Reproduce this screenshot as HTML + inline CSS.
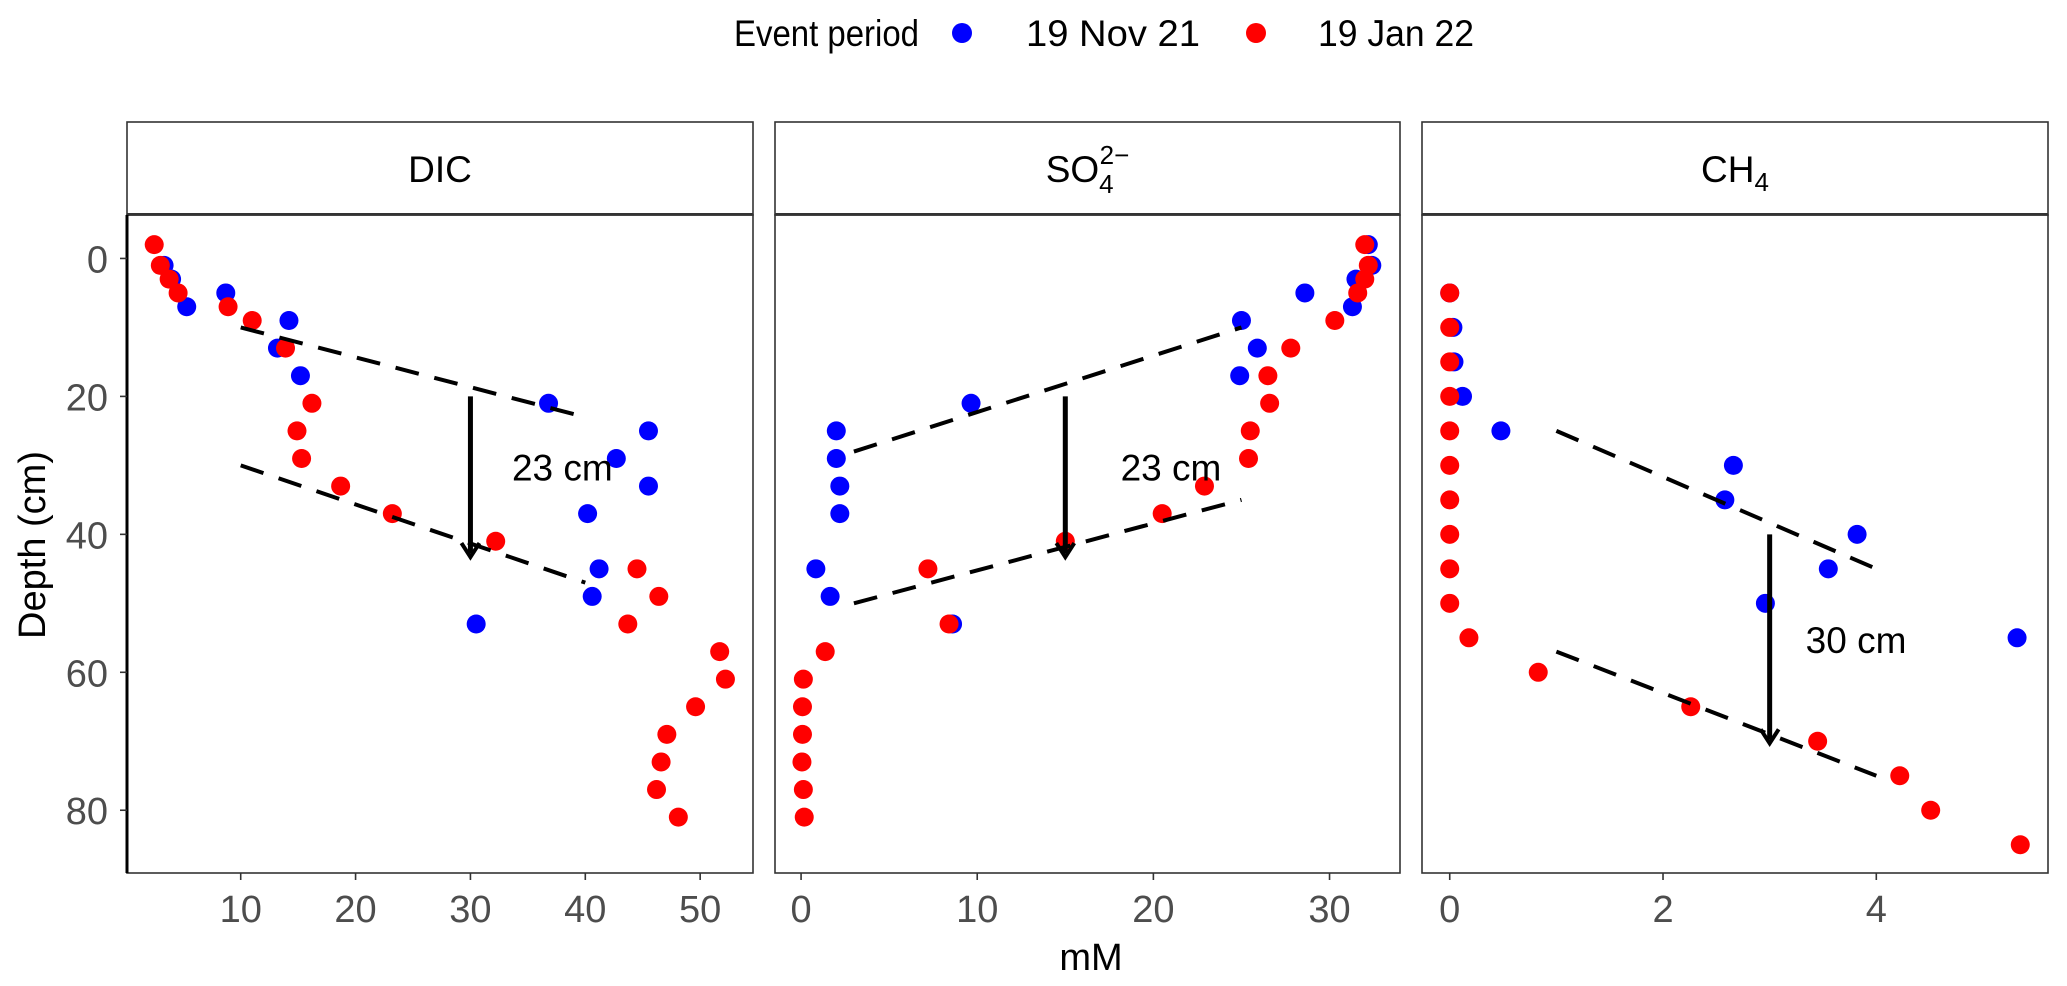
<!DOCTYPE html>
<html><head><meta charset="utf-8"><style>
body{margin:0;background:#fff}
svg{display:block;font-family:"Liberation Sans",sans-serif}
</style></head><body>
<svg id="c" width="2067" height="986" xmlns="http://www.w3.org/2000/svg">
<g id="legend">
<text x="734" y="46" font-size="37" textLength="185" lengthAdjust="spacingAndGlyphs" fill="#000">Event period</text>
<circle cx="962" cy="33" r="10" fill="#0000ff"/>
<text x="1026" y="46" font-size="37" textLength="174" lengthAdjust="spacingAndGlyphs">19 Nov 21</text>
<circle cx="1256" cy="33" r="10" fill="#ff0000"/>
<text x="1318" y="46" font-size="37" textLength="156" lengthAdjust="spacingAndGlyphs">19 Jan 22</text>
</g>
<text x="1091" y="970" font-size="38" text-anchor="middle">mM</text>
<text transform="translate(45,545) rotate(-90)" font-size="38" text-anchor="middle">Depth (cm)</text>
</svg>
<script>
// shared depth axis
const yTicks=[0,20,40,60,80];
// DIC
const dicNovX=[3.33,3.98,8.7,5.3,14.2,13.2,15.2,36.8,45.5,42.7,45.5,40.2,41.2,40.6,30.5];
const dicNovD=[1,3,5,7,9,13,17,21,25,29,33,37,45,49,53];
const dicJanX=[2.47,3.0,3.77,4.55,8.9,11.0,13.9,16.2,14.9,15.3,18.7,23.2,32.2,44.5,46.4,43.7,51.7,52.2,49.6,47.1,46.6,46.2,48.1];
const dicJanD=[-2,1,3,5,7,9,13,21,25,29,33,37,41,45,49,53,57,61,65,69,73,77,81];
const dicTicks=[10,20,30,40,50];
// SO4
const so4NovX=[32.2,32.4,31.5,28.6,31.3,25.0,25.9,24.9,9.65,2.0,2.0,2.2,2.2,0.84,1.65,8.6];
const so4NovD=[-2,1,3,5,7,9,13,17,21,25,29,33,37,45,49,53];
const so4JanX=[32.0,32.2,32.0,31.6,30.3,27.8,26.5,26.6,25.5,25.4,22.9,20.5,15.0,7.2,8.4,1.37,0.13,0.08,0.08,0.05,0.13,0.18];
const so4JanD=[-2,1,3,5,9,13,17,21,25,29,33,37,41,45,53,57,61,65,69,73,77,81];
const so4Ticks=[0,10,20,30];
// CH4
const ch4NovX=[0,0.03,0.04,0.12,0.48,2.66,2.58,3.82,3.55,2.96,5.32];
const ch4NovD=[5,10,15,20,25,30,35,40,45,50,55];
const ch4JanX=[0,0,0,0,0,0,0,0,0,0,0.18,0.83,2.26,3.45,4.22,4.51,5.35];
const ch4JanD=[5,10,15,20,25,30,35,40,45,50,55,60,65,70,75,80,85];
const ch4Ticks=[0,2,4];

const NS="http://www.w3.org/2000/svg";
const svg=document.getElementById('c');
const pTop=215,pBot=873,dMin=-6.3,dMax=89.1;
function yS(d){return pTop+(d-dMin)/(dMax-dMin)*(pBot-pTop);}
function mk(tag,attrs,parent){const e=document.createElementNS(NS,tag);for(const k in attrs)e.setAttribute(k,attrs[k]);(parent||svg).appendChild(e);return e;}

const panels=[
 {name:'dic',title:'DIC',l:127,r:753,xmin:0.1,xmax:54.6,ticks:dicTicks,nx:dicNovX,nd:dicNovD,jx:dicJanX,jd:dicJanD,
  lines:[[10,10,40,23],[10,30,40,47]],arrow:[30,20,43.3],label:[38,30.3,'23 cm']},
 {name:'so4',title:'SO4',l:775,r:1400,xmin:-1.48,xmax:34.0,ticks:so4Ticks,nx:so4NovX,nd:so4NovD,jx:so4JanX,jd:so4JanD,
  lines:[[3,28,25,10],[3,50,25,35]],arrow:[15,20,43.3],label:[21,30.3,'23 cm']},
 {name:'ch4',title:'CH4',l:1422,r:2048,xmin:-0.26,xmax:5.61,ticks:ch4Ticks,nx:ch4NovX,nd:ch4NovD,jx:ch4JanX,jd:ch4JanD,
  lines:[[1,25,4,45],[1,57,4,75]],arrow:[3,40,70.3],label:[3.81,55.3,'30 cm']}
];
panels.forEach((p,i)=>{
 const xS=v=>p.l+(v-p.xmin)/(p.xmax-p.xmin)*(p.r-p.l);
 const g=mk('g',{});
 
 
 const strip=mk('rect',{x:p.l,y:122,width:p.r-p.l,height:93,fill:'#fff',stroke:'#333','stroke-width':1.6},g);
 
 
 const st=mk('text',{x:(p.l+p.r)/2,y:182,'font-size':37,'text-anchor':'middle'},g);
 
 
 if(p.title==='DIC'){st.textContent='DIC';}
 else if(p.title==='SO4'){st.innerHTML='SO<tspan font-size="26" dy="11">4</tspan><tspan font-size="26" dx="-14" dy="-29">2\u2212</tspan>';}
 else {st.innerHTML='CH<tspan font-size="26" dy="9">4</tspan>';}
 const fr=mk('rect',{x:p.l,y:pTop,width:p.r-p.l,height:pBot-pTop,fill:'none',stroke:'#333','stroke-width':1.6},g);
 
 
 mk('line',{x1:p.l,y1:pTop-1,x2:p.r,y2:pTop-1,stroke:'#333','stroke-width':2},g);
 p.ticks.forEach(t=>{
  const x=xS(t);
  mk('line',{x1:x,y1:pBot,x2:x,y2:pBot+7,stroke:'#333','stroke-width':1.6},g);
  const tl=mk('text',{x:x,y:922,'font-size':38,'text-anchor':'middle',fill:'#4d4d4d'},g);
  
  
  tl.textContent=t;
 });
 if(i===0){
  mk('line',{x1:p.l,y1:pTop,x2:p.l,y2:pBot,stroke:'#000','stroke-width':3},g);
  yTicks.forEach(t=>{
   const y=yS(t);
   mk('line',{x1:p.l-7,y1:y,x2:p.l,y2:y,stroke:'#333','stroke-width':1.6},g);
   const yl=mk('text',{x:108,y:y+14,'font-size':38,'text-anchor':'end',fill:'#4d4d4d'},g);
   
   
   yl.textContent=t;
  });
 }
 p.nx.forEach((v,k)=>{
  const c=mk('circle',{cx:xS(v),cy:yS(p.nd[k]),r:9.5,fill:'#0000ff'},g);
  
  
 });
 p.jx.forEach((v,k)=>{
  const c=mk('circle',{cx:xS(v),cy:yS(p.jd[k]),r:9.5,fill:'#ff0000'},g);
  
  
 });
 p.lines.forEach(L=>{
  const ln=mk('line',{x1:xS(L[0]),y1:yS(L[1]),x2:xS(L[2]),y2:yS(L[3]),stroke:'#000','stroke-width':4,'stroke-dasharray':'24 16'},g);
  
  
 });
 const ax=xS(p.arrow[0]),y1=yS(p.arrow[1]),y2=yS(p.arrow[2]);
 const ar=mk('line',{x1:ax,y1:y1,x2:ax,y2:y2-4,stroke:'#000','stroke-width':5},g);
 
 
 mk('polyline',{points:`${ax-9},${y2-14} ${ax},${y2} ${ax+9},${y2-14}`,fill:'none',stroke:'#000','stroke-width':4},g);
 const lb=mk('text',{x:xS(p.label[0]),y:yS(p.label[1])+13,'font-size':37,'text-anchor':'middle'},g);
 
 
 lb.textContent=p.label[2];
});
</script>
</body></html>
